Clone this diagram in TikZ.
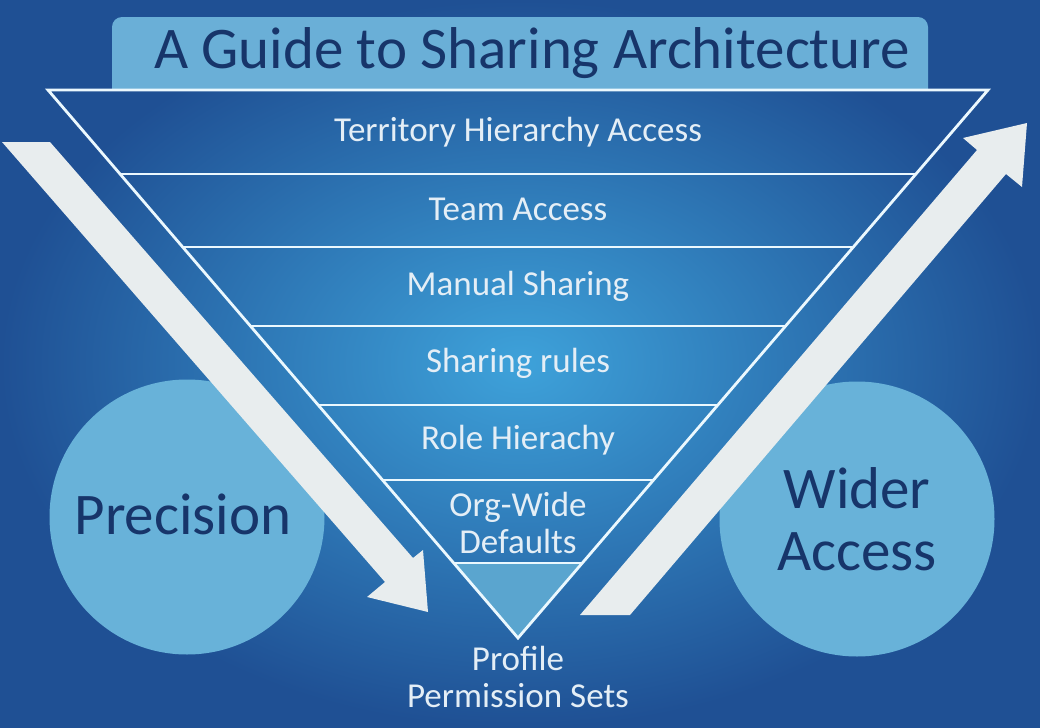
\documentclass[tikz,border=0pt]{standalone}
\usepackage{fontspec}
\setmainfont{Carlito}
\definecolor{bgscuro}{HTML}{1F5094}
\definecolor{bgchiaro}{HTML}{3EA2DA}
\definecolor{titolo}{HTML}{6AAFD7}
\definecolor{navy}{HTML}{17356A}
\definecolor{cerchio}{HTML}{68B2D9}
\definecolor{punta}{HTML}{5AA5CF}
\definecolor{freccia}{HTML}{E8EDEE}
\definecolor{testo}{HTML}{E4EEF6}

\begin{document}
\begin{tikzpicture}[x=0.5pt,y=-0.5pt,
    linea/.style={draw=white!92!cyan, line width=1.4pt, line join=miter},
    strato/.style={text=testo, font=\fontsize{17.5}{18.5}\selectfont, align=center, inner sep=0pt},
    bolla/.style={circle, fill=cerchio, minimum size=137.5pt, inner sep=0pt, text=navy, align=center}]
        % Sfondo
        \shade[inner color=bgchiaro, outer color=bgscuro] (0,0) rectangle (1040,728);
        \useasboundingbox (0,0) rectangle (1040,728);
        % Titolo
        \fill[titolo] (112,90) [rounded corners=5pt] -- (112,17) -- (928,17) [sharp corners] -- (928,90) -- cycle;
        \node[text=navy, font=\fontsize{29.5}{31}\selectfont, inner sep=0pt] (titolo) at (532,53) {A Guide to Sharing Architecture};
        % Cerchi
        \node[bolla] (precisione) at (187,517) {};
        \node[text=navy, font=\fontsize{29.5}{31}\selectfont] (prectesto) at (183,514) {Precision};
        \node[bolla, font=\fontsize{29.5}{31}\selectfont] (accesso) at (857,519) {Wider\\Access};
        % Triangolo rovesciato
        \fill[punta] (453.7,563) -- (582.3,563) -- (518,638) -- cycle;
        \draw[linea] (48,90) -- (988,90) -- (518,638) -- cycle;
        \draw[linea] (120,174) -- (916,174);
        \draw[linea] (182.7,247) -- (853.3,247);
        \draw[linea] (250.4,326) -- (785.6,326);
        \draw[linea] (318.2,405) -- (717.8,405);
        \draw[linea] (382.5,480) -- (653.5,480);
        \draw[linea] (453.7,563) -- (582.3,563);
        % Livelli
        \node[strato] (territorio) at (518,132) {Territory Hierarchy Access};
        \node[strato] (team) at (518,209) {Team Access};
        \node[strato] (manuale) at (518,286) {Manual Sharing};
        \node[strato] (regole) at (518,363) {Sharing rules};
        \node[strato] (ruoli) at (518,440) {Role Hierachy};
        \node[strato] (default) at (518,523) {Org-Wide\\Defaults};
        \node[strato] (profilo) at (518,677) {Profile\\Permission Sets};
        % Frecce
        \fill[freccia] (2,142) -- (50,142) -- (413,558) -- (423,550) -- (428,612) -- (367,597) -- (385,582) -- cycle;
        \fill[freccia] (580,615) -- (977,150) -- (963,138) -- (1027,123) -- (1022,187) -- (1006,174) -- (630,615) -- cycle;
    \end{tikzpicture}
\end{document}
